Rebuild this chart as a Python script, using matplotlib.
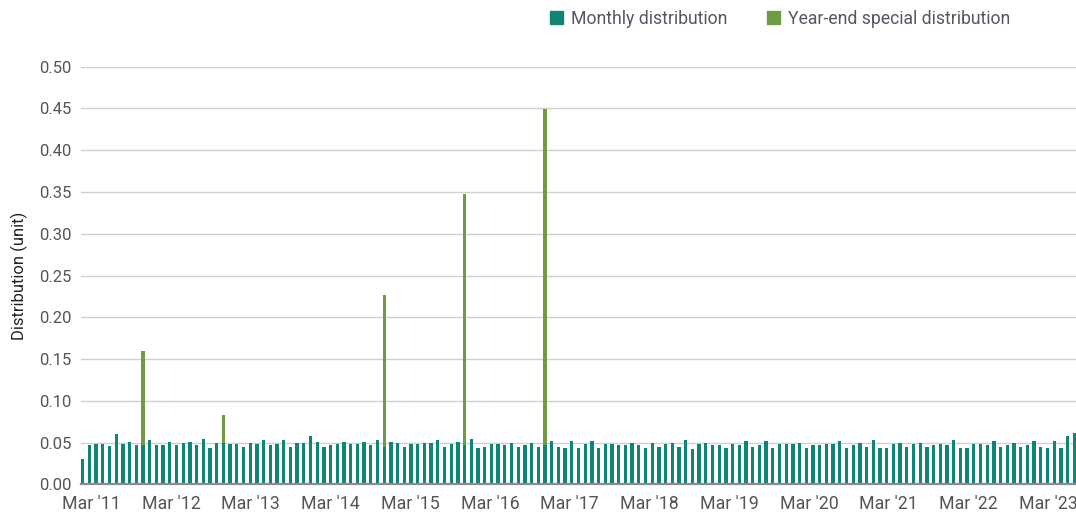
import numpy as np
import matplotlib
matplotlib.use("Agg")
import matplotlib.pyplot as plt
from matplotlib.patches import Patch

plt.rcParams['font.family'] = ['Roboto', 'DejaVu Sans']

# Monthly distributions, Mar 2011 - Jul 2023 (one value per month)
monthly = [
    0.030, 0.047, 0.048, 0.048, 0.046, 0.060, 0.048, 0.051, 0.047, 0.0475,
    0.053, 0.047, 0.047, 0.051, 0.047, 0.050, 0.051, 0.047, 0.054, 0.043,
    0.050, 0.050, 0.048, 0.048, 0.045, 0.050, 0.048, 0.053, 0.047, 0.048,
    0.053, 0.045, 0.050, 0.050, 0.058, 0.051, 0.045, 0.047, 0.048, 0.051,
    0.048, 0.048, 0.051, 0.047, 0.053, 0.045, 0.051, 0.050, 0.045, 0.048,
    0.048, 0.050, 0.050, 0.053, 0.045, 0.048, 0.051, 0.047, 0.054, 0.0435,
    0.045, 0.048, 0.048, 0.047, 0.050, 0.045, 0.047, 0.050, 0.045, 0.047,
    0.052, 0.045, 0.0435, 0.052, 0.0435, 0.048, 0.052, 0.0435, 0.048, 0.048,
    0.047, 0.047, 0.050, 0.047, 0.0435, 0.050, 0.045, 0.048, 0.050, 0.045,
    0.053, 0.042, 0.048, 0.050, 0.047, 0.047, 0.0435, 0.048, 0.047, 0.052,
    0.045, 0.047, 0.052, 0.0435, 0.048, 0.048, 0.048, 0.050, 0.0435, 0.047,
    0.047, 0.048, 0.048, 0.052, 0.0435, 0.047, 0.050, 0.045, 0.053, 0.0435,
    0.0435, 0.048, 0.050, 0.045, 0.048, 0.050, 0.045, 0.047, 0.048, 0.047,
    0.053, 0.0435, 0.0435, 0.048, 0.048, 0.047, 0.052, 0.045, 0.047, 0.050,
    0.045, 0.047, 0.052, 0.045, 0.0435, 0.052, 0.0435, 0.058, 0.0617,
]

# Year-end specials (month index -> amount on top of the monthly payment)
special_idx = [9, 21, 45, 57, 69]
special_amt = [0.1125, 0.033, 0.182, 0.300, 0.402]

year_labels = ["Mar '11", "Mar '12", "Mar '13", "Mar '14", "Mar '15", "Mar '16", "Mar '17",
               "Mar '18", "Mar '19", "Mar '20", "Mar '21", "Mar '22", "Mar '23"]
yticks = [0.00, 0.05, 0.10, 0.15, 0.20, 0.25, 0.30, 0.35, 0.40, 0.45, 0.50]

teal = '#0f8576'
green = '#6f9c42'
text_col = '#555555'

x = np.arange(len(monthly))
special = np.zeros(len(monthly))
special[special_idx] = special_amt

fig = plt.figure(figsize=(10.76, 5.17), dpi=100)
ax = fig.add_axes([81 / 1076, 1 - 484.3 / 517, 1 - 81 / 1076, (484.3 - 66.7) / 517])

ax.bar(x, monthly, width=0.5, color=teal, zorder=2)
ax.bar(x[special_idx], special[special_idx], bottom=np.array(monthly)[special_idx],
       width=0.5, color=green, zorder=2)

ax.set_xlim(-0.25, len(monthly) - 0.75)
ax.set_ylim(0, 0.5)
ax.set_yticks(yticks)
ax.set_yticklabels([f"{v:.2f}" for v in yticks])
ax.set_xticks(np.linspace(1.3, 144.1, len(year_labels)))
ax.set_xticklabels(year_labels)

ax.grid(axis='y', color='#d0d0d0', linewidth=1)
ax.set_axisbelow(True)
for s in ['top', 'right', 'left']:
    ax.spines[s].set_visible(False)
ax.spines['bottom'].set_color('#8c8c8c')
ax.spines['bottom'].set_linewidth(1.6)
ax.tick_params(axis='both', length=0, labelsize=12, labelcolor=text_col)
ax.tick_params(axis='x', labelsize=12.8, pad=8)
ax.tick_params(axis='y', pad=7)

ax.set_ylabel("Distribution (unit)", fontsize=12, color='#222222', labelpad=8)

handles = [Patch(color=teal, label="Monthly distribution"),
           Patch(color=green, label="Year-end special distribution")]
fig.legend(handles=handles, loc='center', bbox_to_anchor=(0.725, 0.964), ncol=2,
           frameon=False, fontsize=12.7, labelcolor='#545863',
           handlelength=0.7, handleheight=0.7, handletextpad=0.45, columnspacing=2.3)

fig.savefig("out.png", dpi=100)
